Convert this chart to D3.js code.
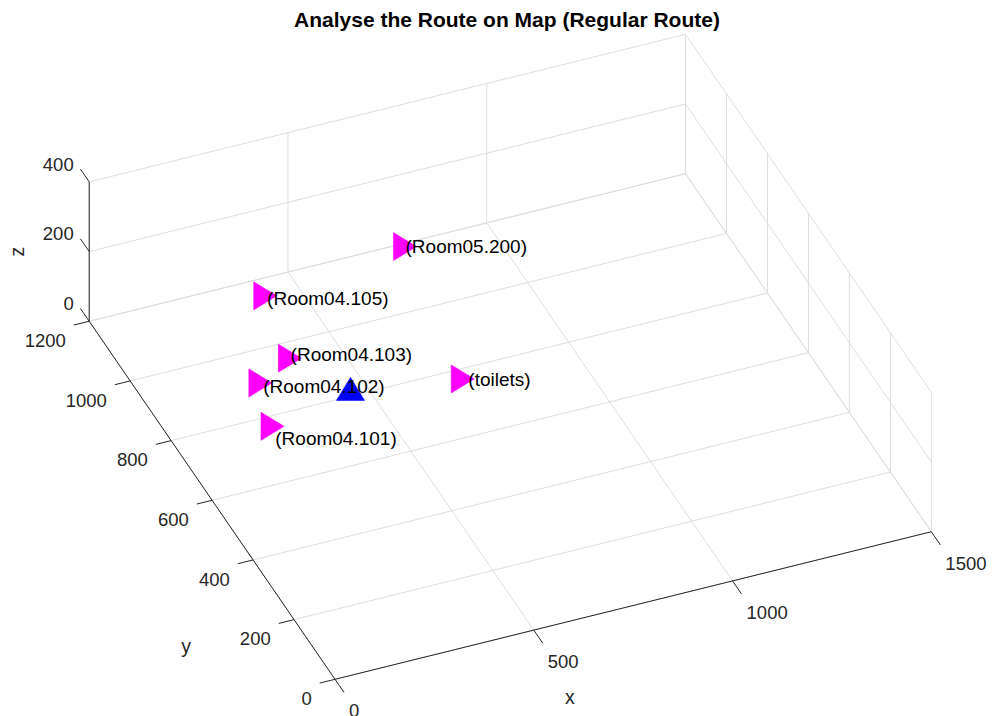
<!DOCTYPE html>
<html>
<head>
<meta charset="utf-8">
<script src="https://cdn.jsdelivr.net/npm/d3@7"></script>
<style>
  body { margin: 0; background: #fff; }
  text { font-family: "Liberation Sans", Arial, Helvetica, sans-serif; }
</style>
</head>
<body>
<svg id="chart" width="992" height="716"></svg>
<script>
// ---- data (map units) ----
const destNames = ["(Room05.200)", "(Room04.105)", "(Room04.103)", "(Room04.102)", "(Room04.101)", "(toilets)"];
const destX = [789, 416, 377, 277, 239, 718];
const destY = [1190, 1148, 952, 902, 769, 770];
const destZ = [0, 0, 0, 0, 0, 0];

// where each destination's text is anchored
const labelX = [790, 416, 384, 278, 228, 730];
const labelY = [1189, 1139, 962, 890, 734, 766];
const labelZ = [0, 0, 0, 0, 0, 0];

// current position
const startX = [462];
const startY = [821];
const startZ = [0];

const xTicks = [0, 500, 1000, 1500];
const yTicks = [0, 200, 400, 600, 800, 1000, 1200];
const zTicks = [0, 200, 400];
const xDomain = [0, 1500], yDomain = [0, 1200], zDomain = [0, 400];

// ---- 3D view (orthographic, azimuth / elevation) ----
const az = -22.4 * Math.PI / 180;
const el = 36.9 * Math.PI / 180;
const origin = [335, 679.3];

const sx = d3.scaleLinear().domain(xDomain).range([0, 645]);
const sy = d3.scaleLinear().domain(yDomain).range([0, 645]);
const sz = d3.scaleLinear().domain(zDomain).range([0, 174.3]);

function proj(x, y, z) {
  const u = sx(x), v = sy(y), w = sz(z);
  const right = u * Math.cos(az) + v * Math.sin(az);
  const up = -u * Math.sin(az) * Math.sin(el) + v * Math.cos(az) * Math.sin(el) + w * Math.cos(el);
  return [origin[0] + right, origin[1] - up];
}

const svg = d3.select("#chart");
svg.append("rect").attr("width", 992).attr("height", 716).attr("fill", "#fff");

const line3 = (a, b) => {
  const p = proj(...a), q = proj(...b);
  return `M${p[0]},${p[1]}L${q[0]},${q[1]}`;
};

// ---- grid on the three back planes ----
const [x0, x1] = xDomain, [y0, y1] = yDomain, [z0, z1] = zDomain;
const gridSegs = [];
// floor z = 0
xTicks.forEach(x => gridSegs.push([[x, y0, z0], [x, y1, z0]]));
yTicks.forEach(y => gridSegs.push([[x0, y, z0], [x1, y, z0]]));
// back wall y = max
xTicks.forEach(x => gridSegs.push([[x, y1, z0], [x, y1, z1]]));
zTicks.forEach(z => gridSegs.push([[x0, y1, z], [x1, y1, z]]));
// side wall x = max
yTicks.forEach(y => gridSegs.push([[x1, y, z0], [x1, y, z1]]));
zTicks.forEach(z => gridSegs.push([[x1, y0, z], [x1, y1, z]]));

svg.append("g").selectAll("path").data(gridSegs).join("path")
  .attr("d", d => line3(d[0], d[1]))
  .attr("fill", "none").attr("stroke", "#dedede").attr("stroke-width", 1);

// ---- axis lines and ticks ----
const axisColor = "#262626";
const axes = svg.append("g").attr("stroke", axisColor).attr("stroke-width", 1).attr("fill", "none");
axes.append("path").attr("d", line3([x0, y0, z0], [x1, y0, z0]));
axes.append("path").attr("d", line3([x0, y0, z0], [x0, y1, z0]));
axes.append("path").attr("d", line3([x0, y1, z0], [x0, y1, z1]));

const xTickLen = 44, yTickLen = 38.5, zTickLen = 43;
axes.selectAll(".xt").data(xTicks).join("path").attr("class", "xt")
  .attr("d", x => line3([x, y0, z0], [x, y0 - xTickLen, z0]));
axes.selectAll(".yt").data(yTicks).join("path").attr("class", "yt")
  .attr("d", y => line3([x0, y, z0], [x0 - yTickLen, y, z0]));
axes.selectAll(".zt").data(zTicks).join("path").attr("class", "zt")
  .attr("d", z => line3([x0, y1, z], [x0, y1 + zTickLen, z]));

const tickFont = 18.5;
const labels = svg.append("g").attr("fill", axisColor).attr("font-size", tickFont);
labels.selectAll(".xl").data(xTicks).join("text").attr("class", "xl")
  .attr("x", x => proj(x, y0 - xTickLen, z0)[0] + 5)
  .attr("y", x => proj(x, y0 - xTickLen, z0)[1] + 18.5)
  .attr("dy", "0.35em").attr("text-anchor", "start")
  .text(d => d);
labels.selectAll(".yl").data(yTicks).join("text").attr("class", "yl")
  .attr("x", y => proj(x0 - yTickLen, y, z0)[0] - 8)
  .attr("y", y => proj(x0 - yTickLen, y, z0)[1] + 15.5)
  .attr("dy", "0.35em").attr("text-anchor", "end")
  .text(d => d);
labels.selectAll(".zl").data(zTicks).join("text").attr("class", "zl")
  .attr("x", z => proj(x0, y1 + zTickLen, z)[0] - 6.7)
  .attr("y", z => proj(x0, y1 + zTickLen, z)[1] - 5)
  .attr("dy", "0.35em").attr("text-anchor", "end")
  .text(d => d);

// axis titles
const xl = proj(479, -217, 0);
labels.append("text").attr("x", xl[0]).attr("y", xl[1]).attr("dy", "0.35em")
  .attr("text-anchor", "middle").attr("font-size", 19.5).text("x");
const yl = proj(-271, 201, 0);
labels.append("text").attr("x", yl[0]).attr("y", yl[1]).attr("dy", "0.35em")
  .attr("text-anchor", "middle").attr("font-size", 19.5).text("y");
const zl = proj(0, 1200, 200);
labels.append("text")
  .attr("transform", `translate(${zl[0] - 72},${zl[1]}) rotate(-90)`)
  .attr("dy", "0.35em").attr("text-anchor", "middle").attr("font-size", 19.5).text("z");

// ---- title ----
svg.append("text").attr("x", 507).attr("y", 27).attr("text-anchor", "middle")
  .attr("font-size", 21).attr("font-weight", "bold").attr("fill", "#000")
  .text("Analyse the Route on Map (Regular Route)");

// ---- destinations: right-pointing triangles ----
const dests = destNames.map((n, i) => ({
  name: n, p: proj(destX[i], destY[i], destZ[i]), lp: proj(labelX[i], labelY[i], labelZ[i])
}));
const tw = 23, th = 28;
svg.append("g").selectAll("path").data(dests).join("path")
  .attr("d", d => {
    const [cx, cy] = d.p;
    return `M${cx - tw / 2},${cy - th / 2}L${cx + tw / 2},${cy}L${cx - tw / 2},${cy + th / 2}Z`;
  })
  .attr("fill", "#ff00ff").attr("stroke", "#ff00ff").attr("stroke-width", 0.6);

// current position: upward triangle
const starts = startX.map((x, i) => proj(x, startY[i], startZ[i]));
svg.append("g").selectAll("path").data(starts).join("path")
  .attr("d", ([cx, cy]) => `M${cx - th / 2},${cy + tw / 2}L${cx},${cy - tw / 2}L${cx + th / 2},${cy + tw / 2}Z`)
  .attr("fill", "#0000ff").attr("stroke", "#0000ff").attr("stroke-width", 0.6);

// destination names
svg.append("g").attr("font-size", 19).attr("fill", "#000")
  .selectAll("text").data(dests).join("text")
  .attr("x", d => d.lp[0]).attr("y", d => d.lp[1]).attr("dy", "0.35em")
  .text(d => d.name);
</script>
</body>
</html>
